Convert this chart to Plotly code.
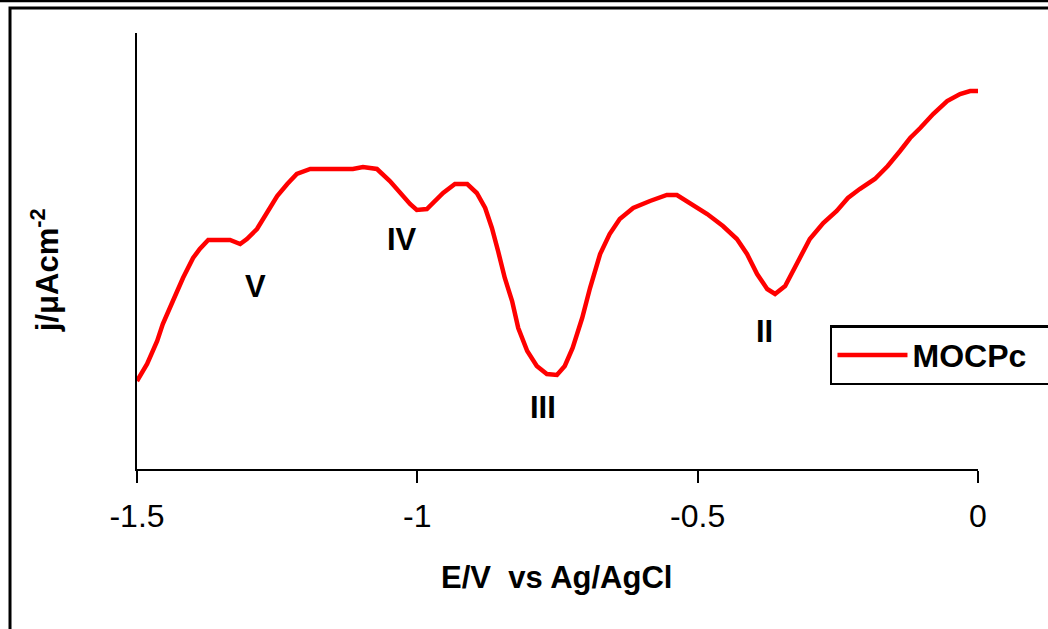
import plotly.graph_objects as go

# Potential (V vs Ag/AgCl)
potential = [-1.500, -1.482, -1.464, -1.454, -1.436, -1.418, -1.400, -1.388, -1.373, -1.334,
             -1.316, -1.304, -1.286, -1.268, -1.250, -1.232, -1.215, -1.191, -1.156, -1.115,
             -1.097, -1.072, -1.049, -1.031, -1.013, -1.001, -0.983, -0.954, -0.933, -0.911,
             -0.894, -0.879, -0.867, -0.856, -0.844, -0.831, -0.820, -0.804, -0.787, -0.769,
             -0.751, -0.737, -0.723, -0.706, -0.692, -0.674, -0.657, -0.639, -0.615, -0.585,
             -0.555, -0.537, -0.514, -0.483, -0.455, -0.430, -0.412, -0.394, -0.376, -0.362,
             -0.344, -0.323, -0.300, -0.276, -0.252, -0.232, -0.211, -0.184, -0.161, -0.139,
             -0.121, -0.103, -0.080, -0.055, -0.032, -0.014, 0.000]

# Current density (arbitrary units, no y ticks in the original)
current = [8.8, 10.5, 12.8, 14.5, 16.8, 19.1, 21.1, 22.0, 22.9, 22.9,
           22.5, 23.0, 24.0, 25.6, 27.3, 28.5, 29.5, 30.0, 30.0, 30.0,
           30.2, 30.0, 28.8, 27.6, 26.5, 25.9, 26.0, 27.6, 28.5, 28.5,
           27.6, 26.1, 24.1, 21.8, 19.1, 16.8, 14.1, 11.8, 10.3, 9.5,
           9.4, 10.3, 12.1, 15.1, 18.1, 21.5, 23.5, 25.0, 26.1, 26.8,
           27.4, 27.4, 26.6, 25.5, 24.3, 23.0, 21.5, 19.5, 18.0, 17.5,
           18.3, 20.5, 23.0, 24.6, 25.8, 27.1, 28.0, 29.0, 30.3, 31.8,
           33.1, 34.1, 35.5, 36.8, 37.5, 37.8, 37.8]

x_ticks = [-1.5, -1.0, -0.5, 0.0]
x_tick_labels = ["-1.5", "-1", "-0.5", "0"]

peak_labels = ["V", "IV", "III", "II"]
peak_x = [-1.288, -1.027, -0.776, -0.380]
peak_y = [18.3, 23.0, 6.2, 13.8]

FONT = "Arial, Liberation Sans, sans-serif"

fig = go.Figure()
fig.add_trace(go.Scatter(x=potential, y=current, mode="lines",
                         name="<b>MOCPc</b>\u00a0\u00a0\u00a0\u00a0",
                         line=dict(color="#ff0000", width=4.5)))

for t, xx, yy in zip(peak_labels, peak_x, peak_y):
    fig.add_annotation(x=xx, y=yy, text="<b>%s</b>" % t, showarrow=False,
                       font=dict(family=FONT, size=31, color="black"),
                       xanchor="center", yanchor="middle")

# axis titles
fig.add_annotation(xref="paper", yref="paper", x=0.4994, y=-0.248,
                   text="<b>E/V  vs Ag/AgCl</b>", showarrow=False,
                   font=dict(family=FONT, size=31, color="black"),
                   xanchor="center", yanchor="middle")
fig.add_annotation(xref="paper", yref="paper", x=-0.1094, y=0.456,
                   text="<b>j/μAcm<sup>-2</sup></b>", showarrow=False, textangle=-90,
                   font=dict(family=FONT, size=31, color="black"),
                   xanchor="center", yanchor="middle")

# outer frame
fig.add_shape(type="line", xref="paper", yref="paper", x0=-0.3, x1=1.3,
              y0=1.0734, y1=1.0734, line=dict(color="black", width=2.5))
fig.add_shape(type="rect", xref="paper", yref="paper", x0=-0.151, x1=1.3,
              y0=-0.6, y1=1.0573, line=dict(color="black", width=3))

fig.update_layout(
    width=1048, height=629,
    margin=dict(l=137, r=70, t=33, b=160, autoexpand=False),
    paper_bgcolor="white", plot_bgcolor="white",
    font=dict(family=FONT, color="black"),
    showlegend=True,
    legend=dict(x=0.824, y=0.330, xanchor="left", yanchor="top",
                bgcolor="white", bordercolor="black", borderwidth=2.5,
                font=dict(family=FONT, size=32, color="black"),
                itemwidth=70, tracegroupgap=0),
    xaxis=dict(range=[-1.5, 0], tickmode="array", tickvals=x_ticks, ticktext=x_tick_labels,
               showgrid=False, zeroline=False, showline=True, linecolor="black", linewidth=2,
               ticks="outside", ticklen=12, tickwidth=2, tickcolor="black",
               ticklabelstandoff=6,
               tickfont=dict(family=FONT, size=32, color="black")),
    yaxis=dict(range=[0, 43.6], showgrid=False, zeroline=False, showline=True,
               linecolor="black", linewidth=2, showticklabels=False, ticks=""),
)

fig.write_html("out.html")
